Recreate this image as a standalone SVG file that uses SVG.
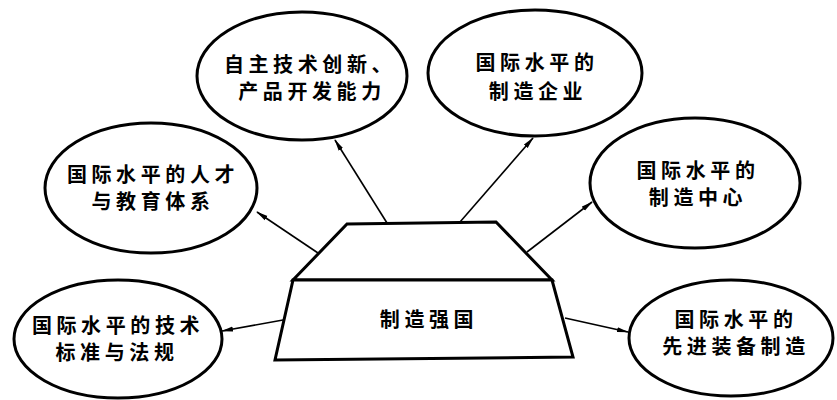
<svg xmlns="http://www.w3.org/2000/svg" width="837" height="400" viewBox="0 0 837 400">
<style>
.node ellipse, .node polygon { fill: #fff; stroke: #000; stroke-width: 3; stroke-linejoin: miter; }
.node text { font-family: "Noto Sans CJK SC", "Noto Sans", sans-serif; font-size: 20px; font-weight: bold; letter-spacing: 4.6px; text-anchor: middle; fill: #000; }
.conn line { stroke: #000; stroke-width: 1.6; fill: none; marker-end: url(#arr); }
</style>
<defs>
<marker id="arr" markerUnits="userSpaceOnUse" markerWidth="12" markerHeight="6" refX="11" refY="3" orient="auto">
<path d="M0,0.5 L12,3 L0,5.5 z" fill="#000"/>
</marker>
</defs>
<rect width="837" height="400" fill="#fff"/>
<g id="connectors" class="conn">
<line x1="318" y1="253" x2="257" y2="212"/>
<line x1="387" y1="223" x2="335" y2="140"/>
<line x1="460" y1="222" x2="533" y2="138"/>
<line x1="527" y1="252" x2="592" y2="202"/>
<line x1="283" y1="320" x2="222" y2="331"/>
<line x1="565" y1="318" x2="628" y2="332"/>
</g>
<g id="n-innovation" class="node">
<ellipse cx="302" cy="76" rx="105" ry="64"/>
<text><tspan x="310" y="72">自主技术创新、</tspan><tspan x="312" y="99">产品开发能力</tspan></text>
</g>
<g id="n-enterprise" class="node">
<ellipse cx="535" cy="73" rx="107" ry="63"/>
<text><tspan x="537" y="70">国际水平的</tspan><tspan x="538" y="99">制造企业</tspan></text>
</g>
<g id="n-talent" class="node">
<ellipse cx="151" cy="188" rx="106" ry="65"/>
<text><tspan x="153" y="182">国际水平的人才</tspan><tspan x="153" y="209">与教育体系</tspan></text>
</g>
<g id="n-center" class="node">
<ellipse cx="695" cy="183" rx="105" ry="65"/>
<text><tspan x="698" y="178">国际水平的</tspan><tspan x="698" y="205">制造中心</tspan></text>
</g>
<g id="n-standard" class="node">
<ellipse cx="118" cy="339" rx="104" ry="59"/>
<text><tspan x="118" y="333">国际水平的技术</tspan><tspan x="117" y="360">标准与法规</tspan></text>
</g>
<g id="n-equipment" class="node">
<ellipse cx="731" cy="338" rx="102" ry="58"/>
<text><tspan x="736" y="327">国际水平的</tspan><tspan x="736" y="354">先进装备制造</tspan></text>
</g>
<g id="n-power" class="node">
<polygon points="347,224 496,222 552,280 293,280"/>
<polygon points="293,280 552,280 573,357 275,360"/>
<text x="429" y="327">制造强国</text>
</g>
</svg>
